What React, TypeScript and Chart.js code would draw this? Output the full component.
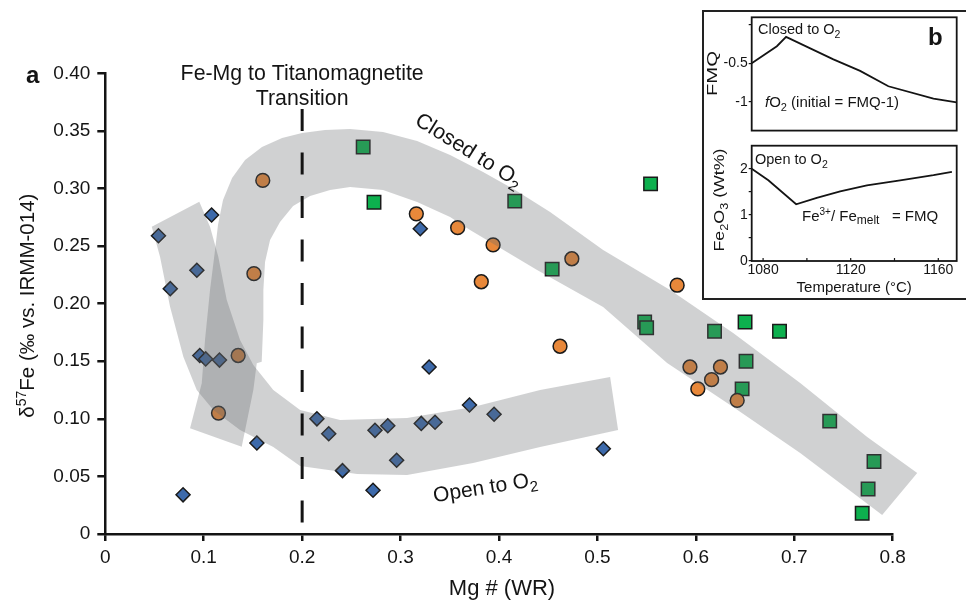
import React, { useEffect, useRef } from 'react';
import { Chart, registerables } from 'chart.js';

Chart.register(...registerables);

const FONT = '"Liberation Sans", Arial, Helvetica, sans-serif';
const INK = '#141414';
const BLUE = '#3d6aab';
const ORANGE = '#e8883a';
const GREEN = '#0db04e';
const EDGE = '#1a1a1a';
const BAND = 'rgba(100,102,106,0.30)';

// ---------- panel a : data ----------
const diamondX = [0.054, 0.066, 0.093, 0.108, 0.079, 0.096, 0.102, 0.116, 0.154, 0.215, 0.227, 0.241, 0.272, 0.274, 0.287, 0.296, 0.321, 0.335, 0.329, 0.370, 0.395, 0.506, 0.320];
const diamondY = [0.259, 0.213, 0.229, 0.277, 0.034, 0.155, 0.152, 0.151, 0.079, 0.100, 0.087, 0.055, 0.038, 0.090, 0.094, 0.064, 0.096, 0.097, 0.145, 0.112, 0.104, 0.074, 0.265];

const circleX = [0.160, 0.151, 0.135, 0.115, 0.316, 0.358, 0.382, 0.394, 0.474, 0.462, 0.581, 0.594, 0.625, 0.616, 0.602, 0.642];
const circleY = [0.307, 0.226, 0.155, 0.105, 0.278, 0.266, 0.219, 0.251, 0.239, 0.163, 0.216, 0.145, 0.145, 0.134, 0.126, 0.116];

const squareX = [0.262, 0.273, 0.416, 0.454, 0.554, 0.548, 0.550, 0.619, 0.650, 0.685, 0.651, 0.647, 0.736, 0.781, 0.775, 0.769];
const squareY = [0.336, 0.288, 0.289, 0.230, 0.304, 0.184, 0.179, 0.176, 0.184, 0.176, 0.150, 0.126, 0.098, 0.063, 0.039, 0.018];

// shaded trend bands (data coordinates, outline of each band)
const openBandX = [0.0472, 0.0556, 0.0658, 0.0793, 0.0929, 0.1098, 0.1369, 0.1707, 0.1979, 0.2558, 0.3066, 0.3737, 0.4418, 0.5210,
  0.5129, 0.4418, 0.3737, 0.3066, 0.2385, 0.1979, 0.1707, 0.1504, 0.1369, 0.1234, 0.1148, 0.1064, 0.0955];
const openBandY = [0.2668, 0.2408, 0.1974, 0.1539, 0.1250, 0.1077, 0.0903, 0.0755, 0.0590, 0.0521, 0.0512, 0.0616, 0.0755, 0.0903,
  0.1363, 0.1250, 0.1103, 0.1007, 0.0990, 0.1077, 0.1250, 0.1467, 0.1684, 0.2032, 0.2408, 0.2668, 0.2885];

const closedBandX = [0.0861, 0.1386, 0.1504, 0.1539, 0.1589, 0.1606, 0.1606, 0.1623, 0.1674, 0.1775, 0.1908, 0.2080, 0.2284, 0.2487,
  0.2822, 0.3168, 0.3503, 0.3706, 0.4387, 0.5058, 0.5708, 0.6379, 0.7060, 0.7893, 0.8249, 0.7741, 0.7060, 0.6379, 0.5739, 0.5058,
  0.4519, 0.4164, 0.3838, 0.3503, 0.3168, 0.2822, 0.2487, 0.2233, 0.1999, 0.1796, 0.1592, 0.1420, 0.1288, 0.1196, 0.1145, 0.1115,
  0.1064, 0.1013, 0.0980];
const closedBandY = [0.0918, 0.0758, 0.1250, 0.1482, 0.1496, 0.1858, 0.2119, 0.2362, 0.2553, 0.2709, 0.2848, 0.2935, 0.2987, 0.3013,
  0.2987, 0.2883, 0.2752, 0.2640, 0.2292, 0.1971, 0.1485, 0.1103, 0.0703, 0.0165, 0.0530, 0.0842, 0.1311, 0.1745, 0.2119, 0.2466,
  0.2796, 0.2987, 0.3143, 0.3291, 0.3412, 0.3490, 0.3517, 0.3508, 0.3482, 0.3438, 0.3360, 0.3247, 0.3091, 0.2900, 0.2683, 0.2466,
  0.2119, 0.1684, 0.1308];

const transitionX = 0.2;
const transitionYRange = [0.369, 0.008];

// ---------- panel b : data ----------
const closedTemp = [1074.8, 1086.3, 1090.5, 1112.1, 1124.3, 1137.2, 1157.8, 1168.4];
const closedFMQ = [-0.50, -0.28, -0.16, -0.45, -0.60, -0.80, -0.96, -1.01];
const openTemp = [1074.8, 1082.4, 1095.1, 1104.5, 1115.2, 1127.4, 1142.6, 1157.8, 1166.2];
const openFe2O3 = [2.00, 1.75, 1.23, 1.37, 1.51, 1.64, 1.75, 1.86, 1.93];
const tempTicks = [1080, 1100, 1120, 1140, 1160];
const tempLabels = [1080, 1120, 1160];
const fmqTicks = [-1, -0.5, 0];
const fe2o3Ticks = [0, 0.5, 1, 1.5, 2];

const zip = (xs: number[], ys: number[]) => xs.map((x, i) => ({ x, y: ys[i] }));

type Part = { t: string; size: number; dy?: number; bold?: boolean; italic?: boolean };
const fontOf = (p: Part) => `${p.italic ? 'italic ' : ''}${p.bold ? 'bold ' : ''}${p.size}px ${FONT}`;

function drawRich(ctx: CanvasRenderingContext2D, parts: Part[], x: number, y: number, align: 'left' | 'center' = 'left', angle = 0, shift = 0, stretch = 1) {
  ctx.save();
  ctx.translate(x, y);
  if (angle) ctx.rotate(angle);
  if (stretch !== 1) ctx.scale(stretch, 1);
  let total = 0;
  for (const p of parts) { ctx.font = fontOf(p); total += ctx.measureText(p.t).width; }
  let cx = align === 'center' ? -total / 2 : 0;
  ctx.textAlign = 'left';
  ctx.textBaseline = 'alphabetic';
  ctx.fillStyle = INK;
  for (const p of parts) {
    ctx.font = fontOf(p);
    ctx.fillText(p.t, cx, (p.dy || 0) + shift);
    cx += ctx.measureText(p.t).width;
  }
  ctx.restore();
}

const bandPlugin = {
  id: 'bands',
  afterDatasetsDraw(chart: any) {
    const { ctx, scales } = chart;
    const sx = scales.x, sy = scales.y;
    ctx.save();
    ctx.fillStyle = BAND;
    const bands: [number[], number[]][] = [[openBandX, openBandY], [closedBandX, closedBandY]];
    for (const [bx, by] of bands) {
      ctx.beginPath();
      bx.forEach((v, i) => {
        const px = sx.getPixelForValue(v), py = sy.getPixelForValue(by[i]);
        if (i) ctx.lineTo(px, py); else ctx.moveTo(px, py);
      });
      ctx.closePath();
      ctx.fill();
    }
    // transition dashed line
    ctx.strokeStyle = INK;
    ctx.lineWidth = 3;
    ctx.setLineDash([22, 21.5]);
    ctx.beginPath();
    const tx = sx.getPixelForValue(transitionX);
    ctx.moveTo(tx, sy.getPixelForValue(transitionYRange[0]));
    ctx.lineTo(tx, sy.getPixelForValue(transitionYRange[1]));
    ctx.stroke();
    ctx.restore();
  },
};

const mainTextPlugin = {
  id: 'mainText',
  afterDraw(chart: any) {
    const { ctx, scales, chartArea } = chart;
    const sx = scales.x, sy = scales.y;
    const cx = (chartArea.left + chartArea.right) / 2;
    const cy = (chartArea.top + chartArea.bottom) / 2;
    drawRich(ctx, [{ t: 'Mg # (WR)', size: 22 }], cx + 3, 595, 'center');
    drawRich(ctx, [{ t: 'δ', size: 20.5 }, { t: '57', size: 14, dy: -8 }, { t: 'Fe (‰ vs. IRMM-014)', size: 20.5 }], 33.5, cy + 2, 'center', -Math.PI / 2);
    drawRich(ctx, [{ t: 'a', size: 24, bold: true }], 26, 83);
    const tx = sx.getPixelForValue(transitionX);
    drawRich(ctx, [{ t: 'Fe-Mg to Titanomagnetite', size: 21.3 }], tx, sy.getPixelForValue(0.3942), 'center');
    drawRich(ctx, [{ t: 'Transition', size: 21.3 }], tx, sy.getPixelForValue(0.3725), 'center');
    drawRich(ctx, [{ t: 'Closed to O', size: 21.5 }, { t: '2', size: 15, dy: 5 }],
      sx.getPixelForValue(0.3696), sy.getPixelForValue(0.3334), 'center', (32 * Math.PI) / 180, 7);
    drawRich(ctx, [{ t: 'Open to O', size: 21 }, { t: '2', size: 15, dy: 5 }],
      sx.getPixelForValue(0.3859), sy.getPixelForValue(0.0408), 'center', (-9 * Math.PI) / 180, 7);
  },
};

function MainChart() {
  const ref = useRef<HTMLCanvasElement>(null);
  useEffect(() => {
    const pt = (style: string, r: number, color: string) => ({
      pointStyle: style, pointRadius: r, radius: r, pointBackgroundColor: color, backgroundColor: color,
      pointBorderColor: EDGE, borderColor: EDGE, pointBorderWidth: 1.5, borderWidth: 1.5, showLine: false,
    });
    const axisFont = { family: FONT, size: 19 };
    const chart = new Chart(ref.current as HTMLCanvasElement, {
      type: 'scatter',
      data: {
        datasets: [
          { data: zip(diamondX, diamondY), ...pt('rectRot', 7, BLUE) },
          { data: zip(circleX, circleY), ...pt('circle', 6.9, ORANGE) },
          { data: zip(squareX, squareY), ...pt('rect', 9.5, GREEN) },
        ] as any,
      },
      options: {
        animation: false,
        responsive: false,
        devicePixelRatio: 1,
        events: [],
        layout: { padding: { left: 0, top: 73.3, right: 73.3, bottom: 0 } },
        plugins: { legend: { display: false }, tooltip: { enabled: false } },
        scales: {
          x: {
            type: 'linear', min: 0, max: 0.8,
            afterFit: (s: any) => { s.height = 68; },
            ticks: { stepSize: 0.1, color: INK, font: axisFont, padding: 5, callback: (v: any) => (Math.abs(v) < 1e-9 ? '0' : Number(v).toFixed(1)) },
            grid: { drawOnChartArea: false, tickLength: 7, color: INK, lineWidth: 2.5 },
            border: { color: INK, width: 2.5 },
          },
          y: {
            type: 'linear', min: 0, max: 0.4,
            afterFit: (s: any) => { s.width = 105.3; },
            ticks: { stepSize: 0.05, color: INK, font: axisFont, padding: 7, callback: (v: any) => (Math.abs(v) < 1e-9 ? '0' : Number(v).toFixed(2)) },
            grid: { drawOnChartArea: false, tickLength: 8, color: INK, lineWidth: 2.5 },
            border: { color: INK, width: 2.5 },
          },
        },
      } as any,
      plugins: [bandPlugin, mainTextPlugin],
    });
    return () => chart.destroy();
  }, []);
  return <canvas ref={ref} width={966} height={602} style={{ position: 'absolute', left: 0, top: 0 }} />;
}

const framePlugin = {
  id: 'frame',
  afterDraw(chart: any) {
    const { ctx, chartArea: a } = chart;
    ctx.save();
    ctx.strokeStyle = INK;
    ctx.lineWidth = 1.8;
    ctx.strokeRect(a.left, a.top, a.right - a.left, a.bottom - a.top);
    ctx.restore();
  },
};

function InsetTop() {
  const ref = useRef<HTMLCanvasElement>(null);
  useEffect(() => {
    const textPlugin = {
      id: 'topText',
      afterDraw(chart: any) {
        const { ctx } = chart;
        drawRich(ctx, [{ t: 'Closed to O', size: 14.5 }, { t: '2', size: 10.5, dy: 4 }], 58, 34);
        drawRich(ctx, [{ t: 'b', size: 24, bold: true }], 228, 45);
        drawRich(ctx, [{ t: 'FMQ', size: 14 }], 17, 73.5, 'center', -Math.PI / 2, 0, 1.45);
        drawRich(ctx, [{ t: 'f', size: 15, italic: true }, { t: 'O', size: 15 }, { t: '2', size: 11, dy: 4 }, { t: ' (initial = FMQ-1)', size: 15 }], 65, 106.7);
      },
    };
    const chart = new Chart(ref.current as HTMLCanvasElement, {
      type: 'line',
      data: { datasets: [{ data: zip(closedTemp, closedFMQ), borderColor: INK, borderWidth: 1.8, pointRadius: 0, fill: false, tension: 0 }] as any },
      options: {
        animation: false, responsive: false, devicePixelRatio: 1, events: [],
        layout: { padding: { left: 0, top: 17.3, right: 9.3, bottom: 7.3 } },
        plugins: { legend: { display: false }, tooltip: { enabled: false } },
        scales: {
          x: { type: 'linear', min: 1074.8, max: 1168.4, display: false },
          y: {
            type: 'linear', min: -1.375, max: 0.095,
            afterFit: (s: any) => { s.width = 51.7; },
            afterBuildTicks: (s: any) => { s.ticks = fmqTicks.map((v) => ({ value: v })); },
            ticks: { color: INK, font: { family: FONT, size: 14 }, padding: 1, callback: (v: any) => (v === 0 ? '' : String(v)) },
            grid: { drawOnChartArea: false, tickLength: 3, color: INK, lineWidth: 1.2 },
            border: { display: false },
          },
        },
      } as any,
      plugins: [framePlugin, textPlugin],
    });
    return () => chart.destroy();
  }, []);
  return <canvas ref={ref} width={266} height={140} style={{ position: 'absolute', left: 700, top: 0 }} />;
}

function InsetBottom() {
  const ref = useRef<HTMLCanvasElement>(null);
  useEffect(() => {
    const textPlugin = {
      id: 'bottomText',
      afterDraw(chart: any) {
        const { ctx, chartArea: a, scales } = chart;
        ctx.save();
        ctx.strokeStyle = INK;
        ctx.lineWidth = 1.2;
        for (const t of tempTicks) {
          const px = scales.x.getPixelForValue(t);
          ctx.beginPath();
          ctx.moveTo(px, a.bottom);
          ctx.lineTo(px, a.bottom - 3);
          ctx.stroke();
        }
        ctx.restore();
        drawRich(ctx, [{ t: 'Open to O', size: 14.5 }, { t: '2', size: 10.5, dy: 4 }], 55, 29.3);
        drawRich(ctx, [{ t: 'Fe', size: 15 }, { t: '3+', size: 10, dy: -6 }, { t: '/ Fe', size: 15 }, { t: 'melt', size: 12, dy: 3 }, { t: '   = FMQ', size: 15 }], 102, 86);
        drawRich(ctx, [{ t: 'Fe', size: 14 }, { t: '2', size: 10, dy: 4 }, { t: 'O', size: 14 }, { t: '3', size: 10, dy: 4 }, { t: ' (Wt%)', size: 14 }], 24.3, 65, 'center', -Math.PI / 2, 0, 1.27);
        drawRich(ctx, [{ t: 'Temperature (°C)', size: 15 }], (a.left + a.right) / 2, 156.7, 'center');
      },
    };
    const chart = new Chart(ref.current as HTMLCanvasElement, {
      type: 'line',
      data: { datasets: [{ data: zip(openTemp, openFe2O3), borderColor: INK, borderWidth: 1.8, pointRadius: 0, fill: false, tension: 0 }] as any },
      options: {
        animation: false, responsive: false, devicePixelRatio: 1, events: [],
        layout: { padding: { left: 0, top: 10.7, right: 9.3, bottom: 0 } },
        plugins: { legend: { display: false }, tooltip: { enabled: false } },
        scales: {
          x: {
            type: 'linear', min: 1074.8, max: 1168.4,
            afterFit: (s: any) => { s.height = 39; },
            afterBuildTicks: (s: any) => { s.ticks = tempTicks.map((v) => ({ value: v })); },
            ticks: { color: INK, font: { family: FONT, size: 14 }, padding: 1, autoSkip: false, maxRotation: 0, callback: (v: any) => (tempLabels.includes(Number(v)) ? String(v) : '') },
            grid: { drawOnChartArea: false, drawTicks: false },
            border: { display: false },
          },
          y: {
            type: 'linear', min: 0, max: 2.5,
            afterFit: (s: any) => { s.width = 51.7; },
            afterBuildTicks: (s: any) => { s.ticks = fe2o3Ticks.map((v) => ({ value: v })); },
            ticks: { color: INK, font: { family: FONT, size: 14 }, padding: 1, callback: (v: any) => (Number.isInteger(Number(v)) ? String(v) : '') },
            grid: { drawOnChartArea: false, tickLength: 3, color: INK, lineWidth: 1.2 },
            border: { display: false },
          },
        },
      } as any,
      plugins: [framePlugin, textPlugin],
    });
    return () => chart.destroy();
  }, []);
  return <canvas ref={ref} width={266} height={165} style={{ position: 'absolute', left: 700, top: 135 }} />;
}

export default function App() {
  return (
    <div style={{ position: 'fixed', left: 0, top: 0, width: 966, height: 602, background: '#fff', overflow: 'hidden' }}>
      <MainChart />
      <div style={{ position: 'absolute', left: 702, top: 10, width: 290, height: 290, border: '2px solid #222', boxSizing: 'border-box', background: '#fff' }} />
      <InsetTop />
      <InsetBottom />
    </div>
  );
}
